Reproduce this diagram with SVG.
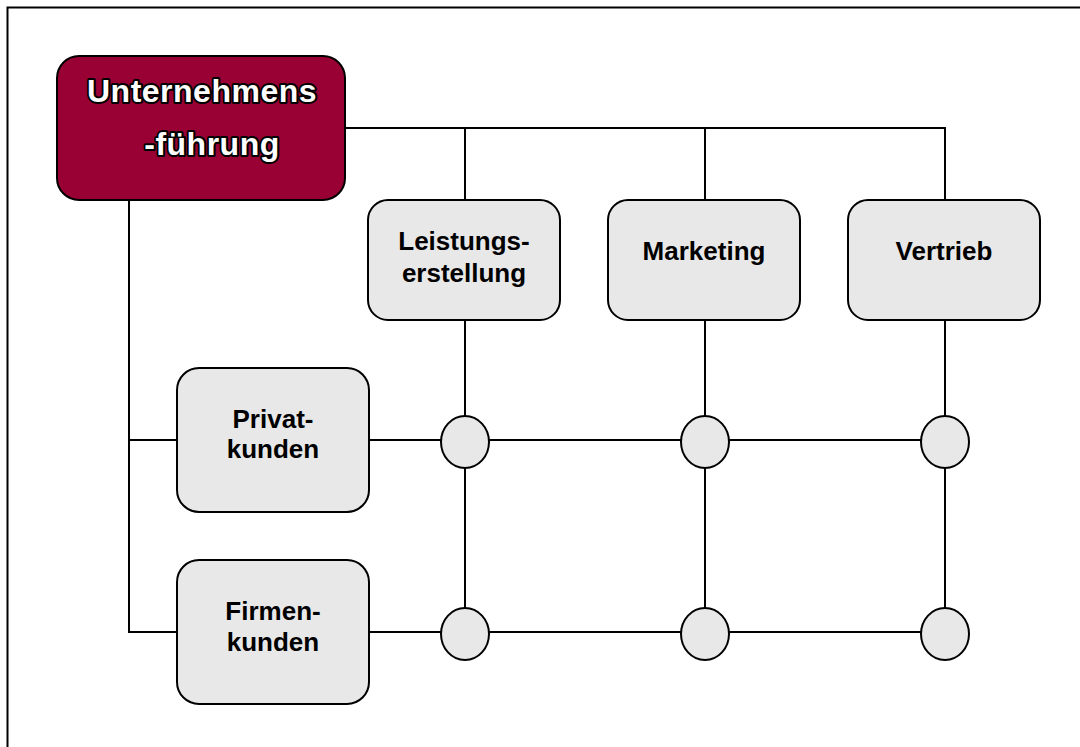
<svg xmlns="http://www.w3.org/2000/svg" width="1080" height="747" viewBox="0 0 1080 747">
  <style>
    .box { fill: #e8e8e8; stroke: #000; stroke-width: 2; }
    .head { fill: #990033; stroke: #000; stroke-width: 2; }
    .hub { fill: #e8e8e8; stroke: #000; stroke-width: 2; }
    .wire { fill: none; stroke: #000; stroke-width: 2; }
    .lbl { font-family: "Liberation Sans", Arial, sans-serif; font-weight: bold; font-size: 26px; fill: #000; text-anchor: middle; }
    .title { font-family: "Liberation Sans", Arial, sans-serif; font-weight: bold; font-size: 32px; fill: #fff; stroke: #000; stroke-width: 4; paint-order: stroke; stroke-linejoin: round; text-anchor: middle; letter-spacing: 0.5px; }
  </style>
  <rect width="1080" height="747" fill="#fff"/>
  <!-- outer frame (open to the right and bottom) -->
  <rect x="7.5" y="7.5" width="1100" height="780" fill="none" stroke="#000" stroke-width="2"/>

  <g id="connectors">
    <!-- management to functions -->
    <polyline class="wire" points="345,128 945,128 945,200"/>
    <line class="wire" x1="465" y1="128" x2="465" y2="200"/>
    <line class="wire" x1="705" y1="128" x2="705" y2="200"/>
    <!-- management to customer segments -->
    <polyline class="wire" points="129,200 129,632 177,632"/>
    <line class="wire" x1="129" y1="440" x2="177" y2="440"/>
    <!-- matrix grid -->
    <line class="wire" x1="369" y1="440" x2="945" y2="440"/>
    <line class="wire" x1="369" y1="632" x2="945" y2="632"/>
    <line class="wire" x1="465" y1="320" x2="465" y2="632"/>
    <line class="wire" x1="705" y1="320" x2="705" y2="632"/>
    <line class="wire" x1="945" y1="320" x2="945" y2="632"/>
  </g>

  <g id="unternehmensfuehrung">
    <rect class="head" x="57" y="56" width="288" height="144" rx="22"/>
    <text class="title" x="202" y="102">Unternehmens</text>
    <text class="title" x="212" y="155">-führung</text>
  </g>

  <g id="leistungserstellung">
    <rect class="box" x="368" y="200" width="192" height="120" rx="20"/>
    <text class="lbl" x="464" y="250">Leistungs-</text>
    <text class="lbl" x="464" y="282">erstellung</text>
  </g>

  <g id="marketing">
    <rect class="box" x="608" y="200" width="192" height="120" rx="20"/>
    <text class="lbl" x="704" y="260">Marketing</text>
  </g>

  <g id="vertrieb">
    <rect class="box" x="848" y="200" width="192" height="120" rx="20"/>
    <text class="lbl" x="944" y="260">Vertrieb</text>
  </g>

  <g id="privatkunden">
    <rect class="box" x="177" y="368" width="192" height="144" rx="22"/>
    <text class="lbl" x="273" y="428">Privat-</text>
    <text class="lbl" x="273" y="458">kunden</text>
  </g>

  <g id="firmenkunden">
    <rect class="box" x="177" y="560" width="192" height="144" rx="22"/>
    <text class="lbl" x="273" y="620">Firmen-</text>
    <text class="lbl" x="273" y="651">kunden</text>
  </g>

  <g id="hubs">
    <ellipse id="hub-privat-leistung" class="hub" cx="465" cy="442" rx="24" ry="26"/>
    <ellipse id="hub-privat-marketing" class="hub" cx="705" cy="442" rx="24" ry="26"/>
    <ellipse id="hub-privat-vertrieb" class="hub" cx="945" cy="442" rx="24" ry="26"/>
    <ellipse id="hub-firmen-leistung" class="hub" cx="465" cy="634" rx="24" ry="26"/>
    <ellipse id="hub-firmen-marketing" class="hub" cx="705" cy="634" rx="24" ry="26"/>
    <ellipse id="hub-firmen-vertrieb" class="hub" cx="945" cy="634" rx="24" ry="26"/>
  </g>
</svg>
